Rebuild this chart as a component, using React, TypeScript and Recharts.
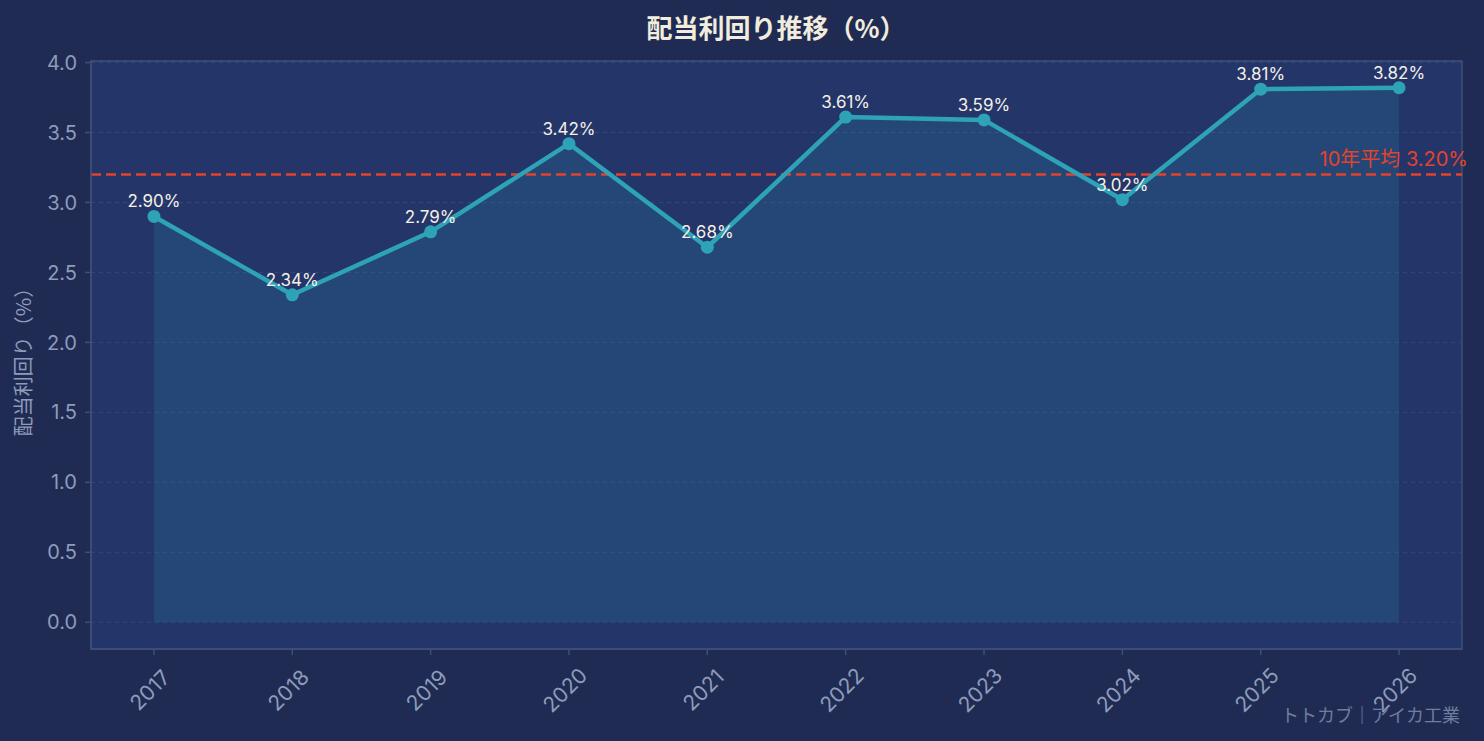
import {
  ComposedChart,
  Area,
  Line,
  XAxis,
  YAxis,
  CartesianGrid,
  ReferenceLine,
  ReferenceArea,
  LabelList,
} from "recharts";

// 配当利回り（%）
const years = [2017, 2018, 2019, 2020, 2021, 2022, 2023, 2024, 2025, 2026];
const yields = [2.9, 2.34, 2.79, 3.42, 2.68, 3.61, 3.59, 3.02, 3.81, 3.82];
const yTicks = [0, 0.5, 1, 1.5, 2, 2.5, 3, 3.5, 4];
const avgYield = 3.2;

const X_DOMAIN = [2016.545, 2026.455];
const Y_DOMAIN = [-0.191, 4.011];

const FONT = "Inter, 'Noto Sans CJK JP', sans-serif";
const CJK_FONT = "'Noto Sans CJK JP', sans-serif";
const BG = "#1f2b53";
const PLOT_BG = "#24356a";
const SPINE = "#3e4f78";
const TICK_TEXT = "#8d9cba";
const TEAL = "#2ea3b8";
const RED = "#e3432a";

const data = years.map((year, i) => ({ year, value: yields[i] }));

const XTick = ({ x, y, payload }: any) => {
  const cx = x - 4;
  const cy = y + 33;
  return (
    <text
      x={cx}
      y={cy}
      textAnchor="middle"
      dominantBaseline="central"
      transform={`rotate(-45, ${cx}, ${cy})`}
      fill={TICK_TEXT}
      fontSize={21}
      fontFamily={FONT}
    >
      {payload.value}
    </text>
  );
};

const AvgLabel = ({ viewBox }: any) => (
  <text
    x={viewBox.x + viewBox.width + 6}
    y={viewBox.y - 8}
    textAnchor="end"
    fill={RED}
    fontSize={20}
    fontFamily={FONT}
  >
    {`10年平均 ${avgYield.toFixed(2)}%`}
  </text>
);

export default function App() {
  return (
    <div
      style={{
        position: "absolute",
        left: 0,
        top: 0,
        width: 1484,
        height: 741,
        background: BG,
        fontFamily: FONT,
      }}
    >
      <ComposedChart
        width={1484}
        height={741}
        data={data}
        margin={{ top: 61, right: 22, bottom: 0, left: 0 }}
      >
        <CartesianGrid
          vertical={false}
          strokeDasharray="4 4"
          stroke="#34467a"
          fill={PLOT_BG}
          fillOpacity={1}
        />
        <XAxis
          type="number"
          dataKey="year"
          domain={X_DOMAIN}
          ticks={years}
          height={92}
          tick={<XTick />}
          tickSize={6}
          stroke={SPINE}
          strokeWidth={1.5}
          allowDataOverflow
        />
        <YAxis
          type="number"
          domain={Y_DOMAIN}
          ticks={yTicks}
          width={91}
          tickSize={6}
          tickMargin={8}
          stroke={SPINE}
          strokeWidth={1.5}
          tick={{ fill: TICK_TEXT, fontSize: 20, fontFamily: FONT }}
          tickFormatter={(v: number) => v.toFixed(1)}
          allowDataOverflow
        />
        <Area
          type="linear"
          dataKey="value"
          baseValue={0}
          stroke="none"
          fill={TEAL}
          fillOpacity={0.17}
          isAnimationActive={false}
        />
        <ReferenceLine
          y={avgYield}
          stroke={RED}
          strokeWidth={2.5}
          strokeDasharray="10 5"
          label={<AvgLabel />}
        />
        <Line
          type="linear"
          dataKey="value"
          stroke={TEAL}
          strokeWidth={4.5}
          dot={{ r: 6.5, fill: TEAL, stroke: "none" }}
          isAnimationActive={false}
        >
          <LabelList
            dataKey="value"
            position="top"
            offset={9}
            formatter={(v: any) => `${Number(v).toFixed(2)}%`}
            fill="#f4f0e6"
            fontSize={17}
            fontFamily={FONT}
          />
        </Line>
        <ReferenceArea
          x1={X_DOMAIN[0]}
          x2={X_DOMAIN[1]}
          y1={Y_DOMAIN[0]}
          y2={Y_DOMAIN[1]}
          fill="none"
          stroke={SPINE}
          strokeWidth={1.5}
        />
      </ComposedChart>
      <svg
        width={1484}
        height={741}
        style={{ position: "absolute", left: 0, top: 0, pointerEvents: "none" }}
      >
        <text
          x={776}
          y={26}
          textAnchor="middle"
          dominantBaseline="central"
          fill="#f2ecdc"
          fontSize={26}
          fontWeight={700}
          fontFamily={CJK_FONT}
        >
          配当利回り推移（%）
        </text>
        <text
          x={22}
          y={357}
          textAnchor="middle"
          dominantBaseline="central"
          transform="rotate(-90, 22, 357)"
          fill={TICK_TEXT}
          fontSize={20}
          fontFamily={CJK_FONT}
        >
          配当利回り（%）
        </text>
        <text
          x={1460}
          y={722}
          textAnchor="end"
          fill="#6f7e9e"
          fontSize={18}
          fontFamily={CJK_FONT}
        >
          トトカブ｜アイカ工業
        </text>
      </svg>
    </div>
  );
}
